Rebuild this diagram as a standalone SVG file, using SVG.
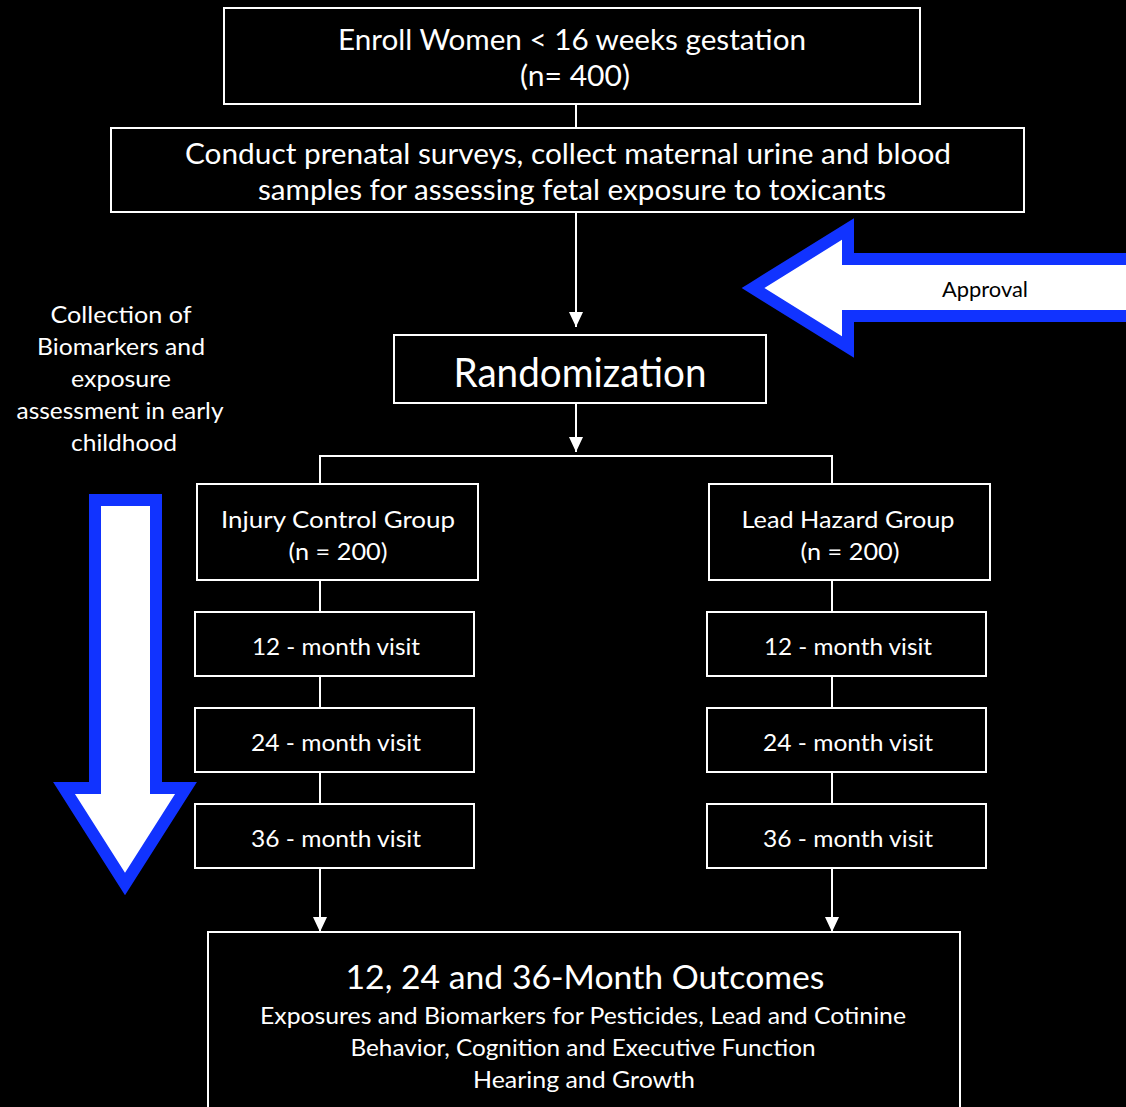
<svg xmlns="http://www.w3.org/2000/svg" width="1126" height="1107" viewBox="0 0 1126 1107">
<defs>
<style>
.box{fill:#000;stroke:#fff;stroke-width:2}
.t{font-family:Lato,"Liberation Sans",sans-serif;fill:#fff;text-anchor:middle}
.c{stroke:#fff;stroke-width:2;fill:none}
.big{fill:#fff;stroke:#1133ff;stroke-width:12;stroke-linejoin:miter;stroke-miterlimit:10}
</style>
<marker id="ah" markerUnits="userSpaceOnUse" markerWidth="15" markerHeight="14" refX="15" refY="7" orient="auto">
<path d="M0,0 L15,7 L0,14 z" fill="#fff"/>
</marker>
</defs>
<rect width="1126" height="1107" fill="#000"/>

<g id="connectors">
<line class="c" x1="576" y1="104" x2="576" y2="128"/>
<line class="c" x1="576" y1="212" x2="576" y2="327" marker-end="url(#ah)"/>
<line class="c" x1="576" y1="403" x2="576" y2="452" marker-end="url(#ah)"/>
<polyline class="c" points="320,484 320,456 832,456 832,484"/>
<line class="c" x1="320" y1="580" x2="320" y2="612"/>
<line class="c" x1="320" y1="676" x2="320" y2="708"/>
<line class="c" x1="320" y1="772" x2="320" y2="804"/>
<line class="c" x1="832" y1="580" x2="832" y2="612"/>
<line class="c" x1="832" y1="676" x2="832" y2="708"/>
<line class="c" x1="832" y1="772" x2="832" y2="804"/>
<line class="c" x1="320" y1="868" x2="320" y2="932" marker-end="url(#ah)"/>
<line class="c" x1="832" y1="868" x2="832" y2="932" marker-end="url(#ah)"/>
</g>

<g id="enroll">
<rect class="box" x="224" y="8" width="696" height="96"/>
<text class="t" x="572" y="50" font-size="29" textLength="468" lengthAdjust="spacingAndGlyphs">Enroll Women &lt; 16 weeks gestation</text>
<text class="t" x="575" y="86" font-size="29" textLength="110" lengthAdjust="spacingAndGlyphs">(n= 400)</text>
</g>

<g id="prenatal">
<rect class="box" x="111" y="128" width="913" height="84"/>
<text class="t" x="568" y="164" font-size="29" textLength="766" lengthAdjust="spacingAndGlyphs">Conduct prenatal surveys, collect maternal urine and blood</text>
<text class="t" x="572" y="200" font-size="29" textLength="628" lengthAdjust="spacingAndGlyphs">samples for assessing fetal exposure to toxicants</text>
</g>

<g id="approval">
<polygon class="big" points="753,288 848,229 848,259 1140,259 1140,316 848,316 848,347"/>
<text x="985" y="297" font-family="Lato,'Liberation Sans',sans-serif" font-size="22" fill="#000" text-anchor="middle" textLength="86" lengthAdjust="spacingAndGlyphs">Approval</text>
</g>

<g id="randomization">
<rect class="box" x="394" y="335" width="372" height="68"/>
<text class="t" x="580" y="387" font-size="40" textLength="253" lengthAdjust="spacingAndGlyphs">Randomization</text>
</g>

<g id="collection">
<text class="t" x="121" y="323" font-size="23" textLength="141" lengthAdjust="spacingAndGlyphs">Collection of</text>
<text class="t" x="121" y="355" font-size="23" textLength="168" lengthAdjust="spacingAndGlyphs">Biomarkers and</text>
<text class="t" x="121" y="387" font-size="23" textLength="100" lengthAdjust="spacingAndGlyphs">exposure</text>
<text class="t" x="120" y="419" font-size="23" textLength="207" lengthAdjust="spacingAndGlyphs">assessment in early</text>
<text class="t" x="124" y="451" font-size="23" textLength="106" lengthAdjust="spacingAndGlyphs">childhood</text>
</g>

<g id="down-arrow">
<polygon class="big" points="95,500 156,500 156,788 186,788 125,884 64,788 95,788"/>
</g>

<g id="injury">
<rect class="box" x="197" y="484" width="281" height="96"/>
<text class="t" x="338" y="528" font-size="24" textLength="234" lengthAdjust="spacingAndGlyphs">Injury Control Group</text>
<text class="t" x="338" y="560" font-size="24" textLength="99" lengthAdjust="spacingAndGlyphs">(n = 200)</text>
</g>

<g id="lead">
<rect class="box" x="709" y="484" width="281" height="96"/>
<text class="t" x="848" y="528" font-size="24" textLength="213" lengthAdjust="spacingAndGlyphs">Lead Hazard Group</text>
<text class="t" x="850" y="560" font-size="24" textLength="99" lengthAdjust="spacingAndGlyphs">(n = 200)</text>
</g>

<g id="l12">
<rect class="box" x="195" y="612" width="279" height="64"/>
<text class="t" x="336" y="655" font-size="24" textLength="168" lengthAdjust="spacingAndGlyphs">12 - month visit</text>
</g>
<g id="l24">
<rect class="box" x="195" y="708" width="279" height="64"/>
<text class="t" x="336" y="751" font-size="24" textLength="170" lengthAdjust="spacingAndGlyphs">24 - month visit</text>
</g>
<g id="l36">
<rect class="box" x="195" y="804" width="279" height="64"/>
<text class="t" x="336" y="847" font-size="24" textLength="170" lengthAdjust="spacingAndGlyphs">36 - month visit</text>
</g>
<g id="r12">
<rect class="box" x="707" y="612" width="279" height="64"/>
<text class="t" x="848" y="655" font-size="24" textLength="168" lengthAdjust="spacingAndGlyphs">12 - month visit</text>
</g>
<g id="r24">
<rect class="box" x="707" y="708" width="279" height="64"/>
<text class="t" x="848" y="751" font-size="24" textLength="170" lengthAdjust="spacingAndGlyphs">24 - month visit</text>
</g>
<g id="r36">
<rect class="box" x="707" y="804" width="279" height="64"/>
<text class="t" x="848" y="847" font-size="24" textLength="170" lengthAdjust="spacingAndGlyphs">36 - month visit</text>
</g>

<g id="outcomes">
<rect class="box" x="208" y="932" width="752" height="185"/>
<text class="t" x="585" y="989" font-size="33" textLength="479" lengthAdjust="spacingAndGlyphs">12, 24 and 36-Month Outcomes</text>
<text class="t" x="583" y="1024" font-size="24" textLength="646" lengthAdjust="spacingAndGlyphs">Exposures and Biomarkers for Pesticides, Lead and Cotinine</text>
<text class="t" x="583" y="1056" font-size="24" textLength="465" lengthAdjust="spacingAndGlyphs">Behavior, Cognition and Executive Function</text>
<text class="t" x="584" y="1088" font-size="24" textLength="222" lengthAdjust="spacingAndGlyphs">Hearing and Growth</text>
</g>
</svg>
